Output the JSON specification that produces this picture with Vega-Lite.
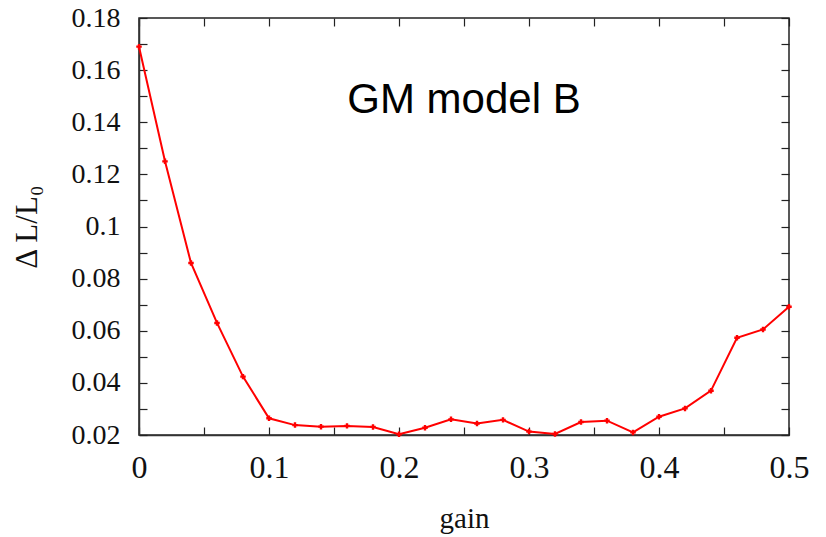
{
  "$schema": "https://vega.github.io/schema/vega-lite/v6.json",
  "width": 650,
  "height": 417,
  "autosize": {"type": "none"},
  "padding": {"left": 139, "top": 18, "right": 37, "bottom": 102},
  "config": {
    "font": "Liberation Serif",
    "view": {"stroke": "#222", "strokeWidth": 1.5},
    "axis": {
      "labelFont": "Liberation Serif",
      "titleFont": "Liberation Serif",
      "labelColor": "#111",
      "titleColor": "#111",
      "titleFontWeight": "normal",
      "domainColor": "#333",
      "domainWidth": 1.5,
      "tickColor": "#222",
      "tickWidth": 1.2,
      "grid": false
    }
  },
  "resolve": {"axis": {"x": "independent", "y": "independent"}},
  "datasets": {
    "curve": [
      {"gain": 0.00, "dl": 0.169},
      {"gain": 0.02, "dl": 0.125},
      {"gain": 0.04, "dl": 0.086},
      {"gain": 0.06, "dl": 0.063},
      {"gain": 0.08, "dl": 0.0424},
      {"gain": 0.10, "dl": 0.0264},
      {"gain": 0.12, "dl": 0.0238},
      {"gain": 0.14, "dl": 0.0232},
      {"gain": 0.16, "dl": 0.0235},
      {"gain": 0.18, "dl": 0.0231},
      {"gain": 0.20, "dl": 0.0203},
      {"gain": 0.22, "dl": 0.0228},
      {"gain": 0.24, "dl": 0.0260},
      {"gain": 0.26, "dl": 0.0244},
      {"gain": 0.28, "dl": 0.0258},
      {"gain": 0.30, "dl": 0.0213},
      {"gain": 0.32, "dl": 0.0204},
      {"gain": 0.34, "dl": 0.0250},
      {"gain": 0.36, "dl": 0.0255},
      {"gain": 0.38, "dl": 0.0210},
      {"gain": 0.40, "dl": 0.0270},
      {"gain": 0.42, "dl": 0.0302},
      {"gain": 0.44, "dl": 0.0370},
      {"gain": 0.46, "dl": 0.0573},
      {"gain": 0.48, "dl": 0.0605},
      {"gain": 0.50, "dl": 0.0692}
    ],
    "label": [{"gain": 0.25, "dl": 0.1485, "text": "GM model B"}]
  },
  "layer": [
    {
      "data": {"name": "curve"},
      "mark": {"type": "line", "color": "#ff0000", "strokeWidth": 2, "clip": false},
      "encoding": {
        "x": {
          "field": "gain", "type": "quantitative",
          "scale": {"domain": [0, 0.5], "nice": false, "zero": false},
          "axis": {
            "title": "gain", "titlePadding": 21,
            "titleFont": "Liberation Serif", "titleFontSize": 29, "titleFontWeight": "normal",
            "values": [0, 0.05, 0.1, 0.15, 0.2, 0.25, 0.3, 0.35, 0.4, 0.45, 0.5],
            "labelExpr": "round(datum.value*100) % 10 == 0 ? format(datum.value, '~g') : ''",
            "labelFont": "Liberation Serif", "labelFontSize": 32,
            "tickSize": -8, "labelPadding": 25, "labelFlush": false
          }
        },
        "y": {
          "field": "dl", "type": "quantitative",
          "scale": {"domain": [0.02, 0.18], "nice": false, "zero": false},
          "axis": {
            "title": "Δ L/L₀", "titlePadding": 28,
            "titleFont": "Liberation Serif", "titleFontSize": 31, "titleFontWeight": "normal",
            "values": [0.02, 0.03, 0.04, 0.05, 0.06, 0.07, 0.08, 0.09, 0.1, 0.11, 0.12, 0.13, 0.14, 0.15, 0.16, 0.17, 0.18],
            "labelExpr": "round(datum.value*100) % 2 == 0 ? format(datum.value, '~g') : ''",
            "labelFont": "Liberation Serif", "labelFontSize": 28,
            "tickSize": -8, "labelPadding": 27, "labelFlush": false
          }
        }
      }
    },
    {
      "data": {"name": "curve"},
      "mark": {"type": "point", "shape": "M-0.5,0H0.5M0,-0.5V0.5", "filled": false, "stroke": "#ff0000", "strokeWidth": 2.4, "size": 120, "clip": false, "opacity": 1},
      "encoding": {
        "x": {
          "field": "gain", "type": "quantitative",
          "axis": {
            "orient": "top", "title": null, "labels": false, "domain": false,
            "values": [0, 0.05, 0.1, 0.15, 0.2, 0.25, 0.3, 0.35, 0.4, 0.45, 0.5],
            "tickSize": -8
          }
        },
        "y": {
          "field": "dl", "type": "quantitative",
          "axis": {
            "orient": "right", "title": null, "labels": false, "domain": false,
            "values": [0.02, 0.03, 0.04, 0.05, 0.06, 0.07, 0.08, 0.09, 0.1, 0.11, 0.12, 0.13, 0.14, 0.15, 0.16, 0.17, 0.18],
            "tickSize": -8
          }
        }
      }
    },
    {
      "data": {"name": "label"},
      "mark": {"type": "text", "font": "Liberation Sans", "fontSize": 42, "color": "#000", "align": "center", "baseline": "middle"},
      "encoding": {
        "x": {"field": "gain", "type": "quantitative", "axis": null},
        "y": {"field": "dl", "type": "quantitative", "axis": null},
        "text": {"field": "text"}
      }
    }
  ]
}
